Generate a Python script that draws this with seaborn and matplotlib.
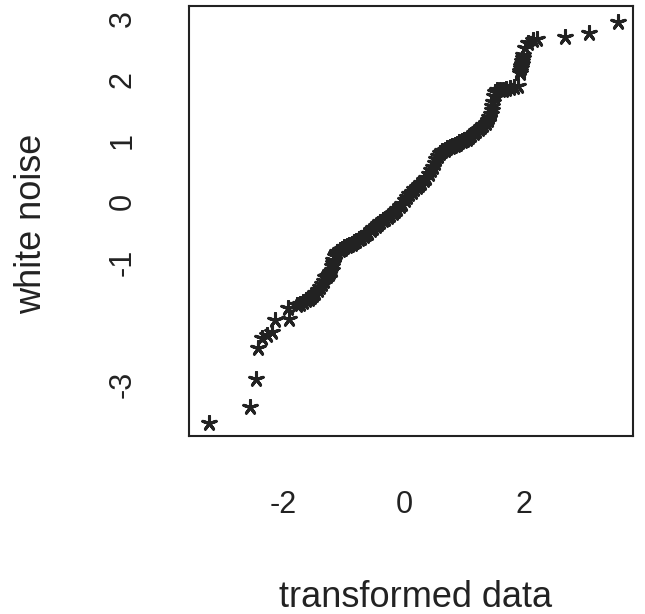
import numpy as np
import pandas as pd
import matplotlib
matplotlib.use("Agg")
import matplotlib.pyplot as plt
import seaborn as sns

# Normal QQ-type comparison: transformed data (x) vs white noise (y)
transformed = [
    -3.23, -2.55, -2.45, -2.42, -2.35, -2.27, -2.19, -2.14, -1.91, -1.92,
    -1.77, -1.72, -1.67, -1.62, -1.58, -1.54, -1.51, -1.47, -1.43, -1.39,
    -1.36, -1.33, -1.31, -1.28, -1.25, -1.22, -1.19,
    -1.19, -1.18, -1.17, -1.15, -1.13, -1.11,
    -1.07, -1.03, -0.99, -0.95, -0.91, -0.87, -0.83, -0.79, -0.75, -0.71,
    -0.67, -0.63, -0.59, -0.55, -0.51, -0.47, -0.43, -0.39, -0.35, -0.31,
    -0.27, -0.23, -0.19, -0.15, -0.11, -0.07, -0.03,
    0.01, 0.05, 0.09, 0.13, 0.17, 0.21, 0.25, 0.29, 0.33, 0.37, 0.41, 0.45,
    0.48, 0.51, 0.54, 0.57, 0.60,
    0.64, 0.68, 0.72, 0.76, 0.80, 0.84, 0.88, 0.92, 0.96, 1.00, 1.04, 1.08,
    1.12, 1.16, 1.20, 1.24, 1.28, 1.32, 1.36,
    1.40, 1.42, 1.44, 1.46, 1.47, 1.48, 1.50,
    1.51, 1.55, 1.60, 1.64, 1.70, 1.76, 1.82, 1.89,
    1.92, 1.93, 1.94, 1.95, 1.96, 1.96, 1.97, 1.98, 2.01, 2.06, 2.14, 2.21,
    2.67, 3.07, 3.55,
]
white_noise = [
    -3.63, -3.37, -2.91, -2.40, -2.24, -2.19, -2.14, -1.94, -1.93, -1.75,
    -1.70, -1.68, -1.65, -1.62, -1.60, -1.56, -1.53, -1.50, -1.45, -1.40,
    -1.35, -1.30, -1.24, -1.22, -1.18, -1.15, -1.12,
    -1.06, -1.00, -0.95, -0.90, -0.86, -0.83,
    -0.80, -0.77, -0.75, -0.73, -0.71, -0.69, -0.67, -0.64, -0.62, -0.60,
    -0.57, -0.54, -0.51, -0.47, -0.44, -0.40, -0.37, -0.34, -0.31, -0.28,
    -0.25, -0.22, -0.19, -0.16, -0.12, -0.08, -0.04,
    0.02, 0.07, 0.12, 0.16, 0.20, 0.23, 0.27, 0.31, 0.35, 0.39, 0.45, 0.52,
    0.57, 0.63, 0.69, 0.75, 0.80,
    0.83, 0.85, 0.87, 0.89, 0.91, 0.93, 0.95, 0.97, 0.99, 1.01, 1.03, 1.06,
    1.09, 1.12, 1.15, 1.18, 1.22, 1.25, 1.28,
    1.34, 1.39, 1.44, 1.50, 1.56, 1.63, 1.72,
    1.80, 1.82, 1.82, 1.83, 1.85, 1.86, 1.88, 1.89,
    2.10, 2.14, 2.18, 2.22, 2.26, 2.30, 2.35, 2.40, 2.52, 2.60, 2.65, 2.66,
    2.70, 2.76, 2.94,
]

x_ticks = [-2, 0, 2]
x_tick_labels = ["-2", "0", "2"]
y_ticks = [-3, -2, -1, 0, 1, 2, 3]
y_tick_labels = ["-3", "", "-1", "0", "1", "2", "3"]

df = pd.DataFrame({"transformed data": transformed, "white noise": white_noise})

sns.set_theme(style="white")
plt.rcParams["font.family"] = ["Liberation Sans", "DejaVu Sans"]
ink = "#222222"

fig = plt.figure(figsize=(6.45, 6.14), dpi=100)
ax = fig.add_axes([0.293, 0.290, 0.688, 0.700])

sns.scatterplot(
    data=df, x="transformed data", y="white noise", ax=ax,
    marker=(5, 2, 0), s=100, color=ink, linewidth=2.2, legend=False,
)

ax.set_xlim(-3.57, 3.80)
ax.set_ylim(-3.84, 3.20)

ax.set_xticks(x_ticks)
ax.set_xticklabels(x_tick_labels)
ax.set_yticks(y_ticks)
ax.set_yticklabels(y_tick_labels, rotation=90, va="center")

for side in ax.spines.values():
    side.set_visible(True)
    side.set_color(ink)
    side.set_linewidth(1.5)

ax.tick_params(axis="both", which="major", direction="out", length=7,
               width=1.3, color=ink, labelcolor=ink, labelsize=22)
ax.tick_params(axis="x", pad=32)
ax.tick_params(axis="y", pad=30)

ax.set_xlabel("transformed data", fontsize=26, color=ink)
ax.set_ylabel("white noise", fontsize=26, color=ink)
ax.xaxis.set_label_coords(0.51, -0.335)
ax.yaxis.set_label_coords(-0.315, 0.493)

fig.savefig("out.png", dpi=100, facecolor="white")
